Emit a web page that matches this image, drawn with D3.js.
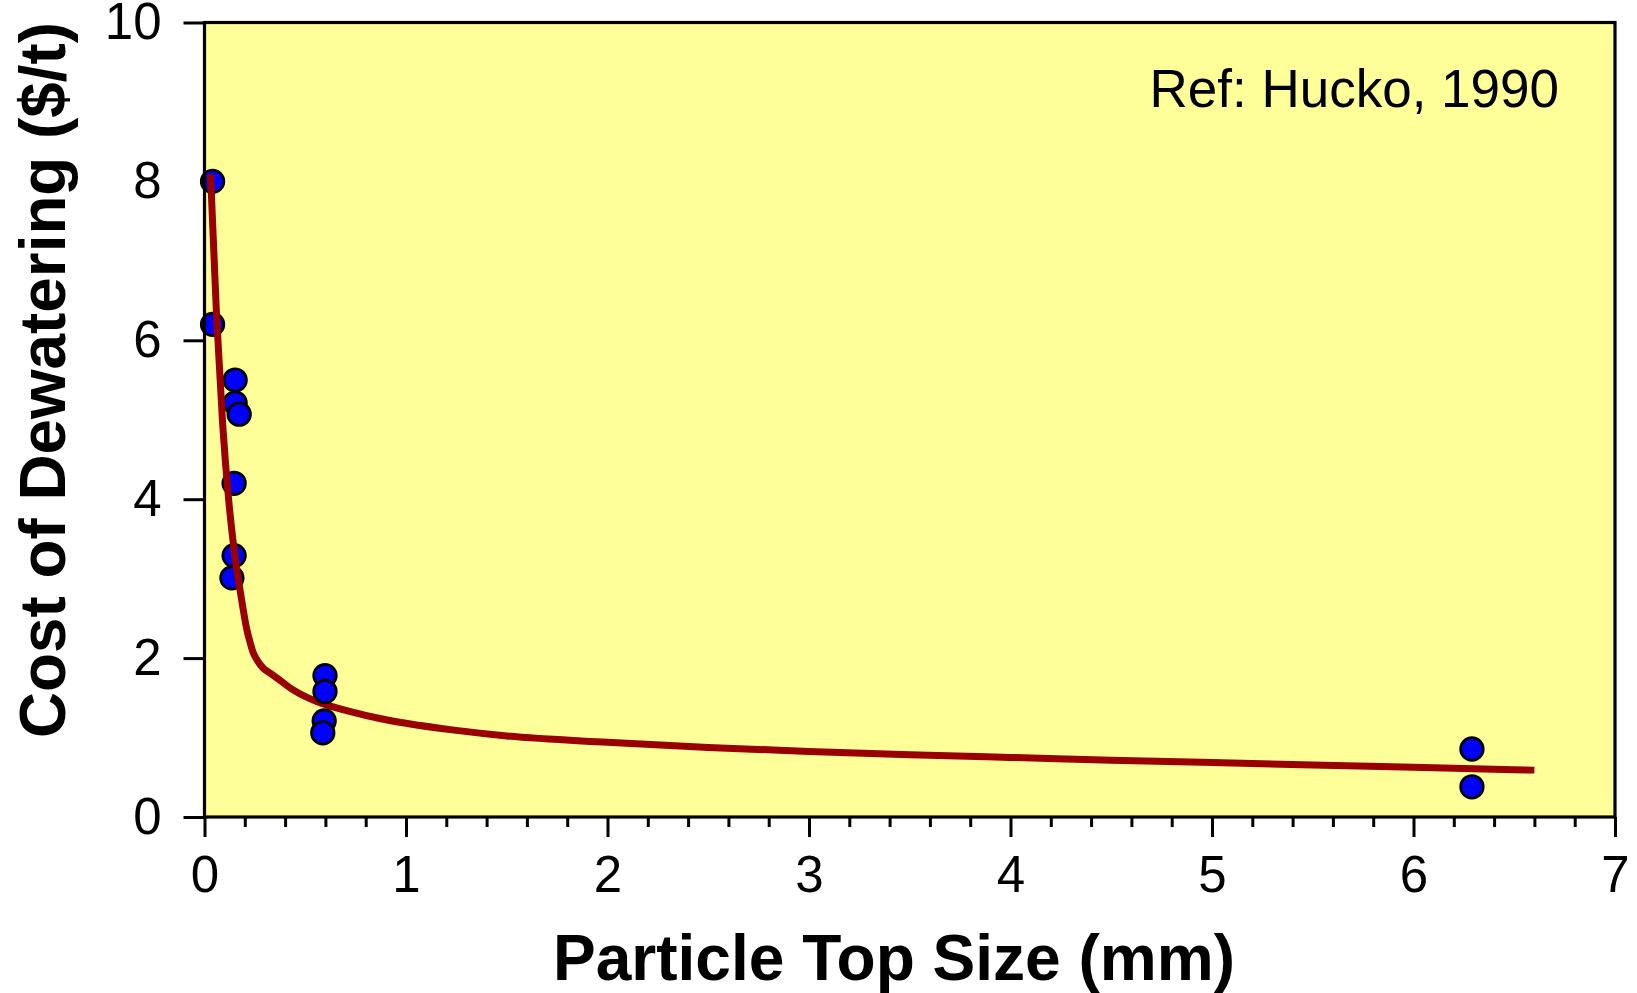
<!DOCTYPE html>
<html>
<head>
<meta charset="utf-8">
<script src="https://cdn.jsdelivr.net/npm/d3@7"></script>
<style>
  html, body { margin: 0; padding: 0; background: #ffffff; }
  svg { display: block; }
</style>
</head>
<body>
<svg id="chart" width="1637" height="993"></svg>
<script>
// Measured dewatering costs against particle top size
const sizeMm = [0.04, 0.04, 0.152, 0.152, 0.172, 0.147, 0.147, 0.136, 0.598, 0.598, 0.594, 0.587, 6.29, 6.29];
const costPerTonne = [8.0, 6.2, 5.50, 5.21, 5.07, 4.20, 3.29, 3.01, 1.78, 1.58, 1.21, 1.06, 0.856, 0.38];

// Fitted trend line
const fitSize = [0.03, 0.06, 0.09, 0.12, 0.15, 0.18, 0.21, 0.227, 0.243, 0.26, 0.293, 0.326, 0.375, 0.44, 0.56, 0.72, 0.87, 1.0, 1.25, 1.5, 2.0, 2.5, 3.0, 3.5, 4.0, 4.5, 5.0, 5.5, 6.0, 6.6];
const fitCost = [8.09, 6.30, 4.95, 3.99, 3.30, 2.80, 2.36, 2.19, 2.06, 1.98, 1.87, 1.81, 1.72, 1.60, 1.45, 1.33, 1.24, 1.18, 1.09, 1.02, 0.94, 0.875, 0.825, 0.785, 0.75, 0.715, 0.685, 0.655, 0.625, 0.59];

// Axis ticks
const xMajorTicks = [0, 1, 2, 3, 4, 5, 6, 7];
const xMinorTicks = d3.range(0, 7.0001, 0.2).map(v => +v.toFixed(1)).filter(v => !xMajorTicks.includes(v));
const yTickLabels = [0, 2, 4, 6, 8, 10];
const yTickMarks = [0, 2, 4, 6, 10];

const xTitle = "Particle Top Size (mm)";
const yTitle = "Cost of Dewatering ($/t)";
const note = "Ref: Hucko, 1990";

const svg = d3.select("#chart");
const plotLeft = 204.5, plotRight = 1615, plotTop = 22.5, plotBottom = 817;

const x = d3.scaleLinear().domain([0, 7]).range([plotLeft, plotRight]);
const y = d3.scaleLinear().domain([0, 10]).range([plotBottom, plotTop]);

const FONT = "'Liberation Sans', Arial, Helvetica, sans-serif";

// plot background
svg.append("rect")
  .attr("x", plotLeft).attr("y", plotTop)
  .attr("width", plotRight - plotLeft).attr("height", plotBottom - plotTop)
  .attr("fill", "#ffff99");

// scatter points: the fine sizes sit beneath the fit, the rest above it
const pts = sizeMm.map((s, i) => ({ s, c: costPerTonne[i] }));
const dotsBelow = pts.filter(p => p.s < 0.3);
const dotsAbove = pts.filter(p => p.s >= 0.3);

function drawDots(g, data) {
  g.selectAll("circle").data(data).join("circle")
    .attr("cx", d => x(d.s))
    .attr("cy", d => y(d.c))
    .attr("r", 11.3)
    .attr("fill", "#0000ff")
    .attr("stroke", "#000000")
    .attr("stroke-width", 2.7);
}
drawDots(svg.append("g"), dotsBelow);

// fitted curve
const line = d3.line()
  .x(d => x(d[0]))
  .y(d => y(d[1]))
  .curve(d3.curveMonotoneX);
svg.append("path")
  .datum(fitSize.map((s, i) => [s, fitCost[i]]))
  .attr("d", line)
  .attr("fill", "none")
  .attr("stroke", "#990000")
  .attr("stroke-width", 7)
  .attr("stroke-linejoin", "round");

drawDots(svg.append("g"), dotsAbove);

// frame
svg.append("rect")
  .attr("x", plotLeft).attr("y", plotTop)
  .attr("width", plotRight - plotLeft).attr("height", plotBottom - plotTop)
  .attr("fill", "none")
  .attr("stroke", "#000")
  .attr("stroke-width", 3.2);

// x axis: major ticks with labels
const xAxisG = svg.append("g")
  .attr("transform", `translate(0,${plotBottom})`)
  .call(d3.axisBottom(x).tickValues(xMajorTicks).tickSize(20).tickPadding(19).tickFormat(d3.format("d")));
// x axis: minor ticks
const xMinorG = svg.append("g")
  .attr("transform", `translate(0,${plotBottom})`)
  .call(d3.axisBottom(x).tickValues(xMinorTicks).tickSize(10).tickFormat(""));

// y axis: tick marks
const yMarkG = svg.append("g")
  .attr("transform", `translate(${plotLeft},0)`)
  .call(d3.axisLeft(y).tickValues(yTickMarks).tickSize(21).tickFormat(""));
// y axis: labels
const yLabelG = svg.append("g")
  .attr("transform", `translate(${plotLeft},0)`)
  .call(d3.axisLeft(y).tickValues(yTickLabels).tickSize(0).tickPadding(43).tickFormat(d3.format("d")));

[xAxisG, xMinorG, yMarkG, yLabelG].forEach(g => {
  g.select(".domain").remove();
  g.selectAll(".tick line").attr("stroke", "#000").attr("stroke-width", 3);
  g.selectAll("text")
    .attr("fill", "#000")
    .style("font-family", FONT)
    .style("font-size", "51px");
});
yLabelG.selectAll(".tick line").remove();

// axis titles
svg.append("text")
  .attr("x", 894)
  .attr("y", 980)
  .attr("text-anchor", "middle")
  .attr("textLength", 682)
  .attr("lengthAdjust", "spacingAndGlyphs")
  .style("font-family", FONT)
  .style("font-weight", "bold")
  .style("font-size", "64px")
  .attr("fill", "#000")
  .text(xTitle);

svg.append("text")
  .attr("transform", `translate(65,380) rotate(-90)`)
  .attr("text-anchor", "middle")
  .attr("textLength", 716)
  .attr("lengthAdjust", "spacingAndGlyphs")
  .style("font-family", FONT)
  .style("font-weight", "bold")
  .style("font-size", "64px")
  .attr("fill", "#000")
  .text(yTitle);

// source note
svg.append("text")
  .attr("x", 1559)
  .attr("y", 106.5)
  .attr("text-anchor", "end")
  .style("font-family", FONT)
  .style("font-size", "53px")
  .attr("fill", "#000")
  .text(note);
</script>
</body>
</html>
